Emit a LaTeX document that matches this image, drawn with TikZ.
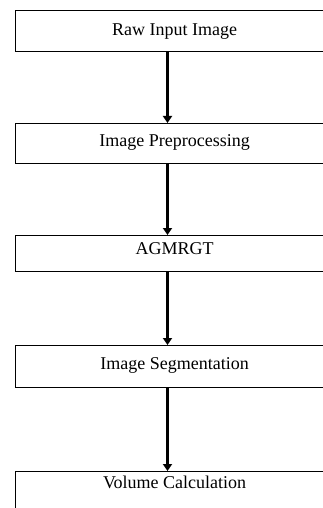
\documentclass[tikz,border=0pt]{standalone}
\usepackage{fontspec}
\setmainfont{Liberation Serif}
\usetikzlibrary{arrows.meta}
\begin{document}
\begin{tikzpicture}[x=1pt,y=-1pt,
  stepbox/.style={draw, line width=1.2pt, minimum width=318pt, inner sep=0pt,
    font=\fontsize{18}{20}\selectfont, anchor=north west},
  flow/.style={line width=2.7pt, -{Triangle[width=9pt,length=7pt]}}]
\useasboundingbox (0,0) rectangle (323,508);
\clip (0,0) rectangle (323,508);
\coordinate (ax) at (167.5,0);
\node[stepbox, text height=25pt, text depth=16pt] (b1) at (15,10) {Raw Input Image};
\node[stepbox, text height=23pt, text depth=17pt] (b2) at (15,123) {Image Preprocessing};
\node[stepbox, text height=19pt, text depth=17pt] (b3) at (15,235) {AGMRGT};
\node[stepbox, text height=24pt, text depth=18pt] (b4) at (15,345) {Image Segmentation};
\node[stepbox, text height=17pt, text depth=30pt] (b5) at (15,471) {Volume Calculation};
\draw[flow] (b1.south -| ax) -- (b2.north -| ax);
\draw[flow] (b2.south -| ax) -- (b3.north -| ax);
\draw[flow] (b3.south -| ax) -- (b4.north -| ax);
\draw[flow] (b4.south -| ax) -- (b5.north -| ax);
\end{tikzpicture}
\end{document}
